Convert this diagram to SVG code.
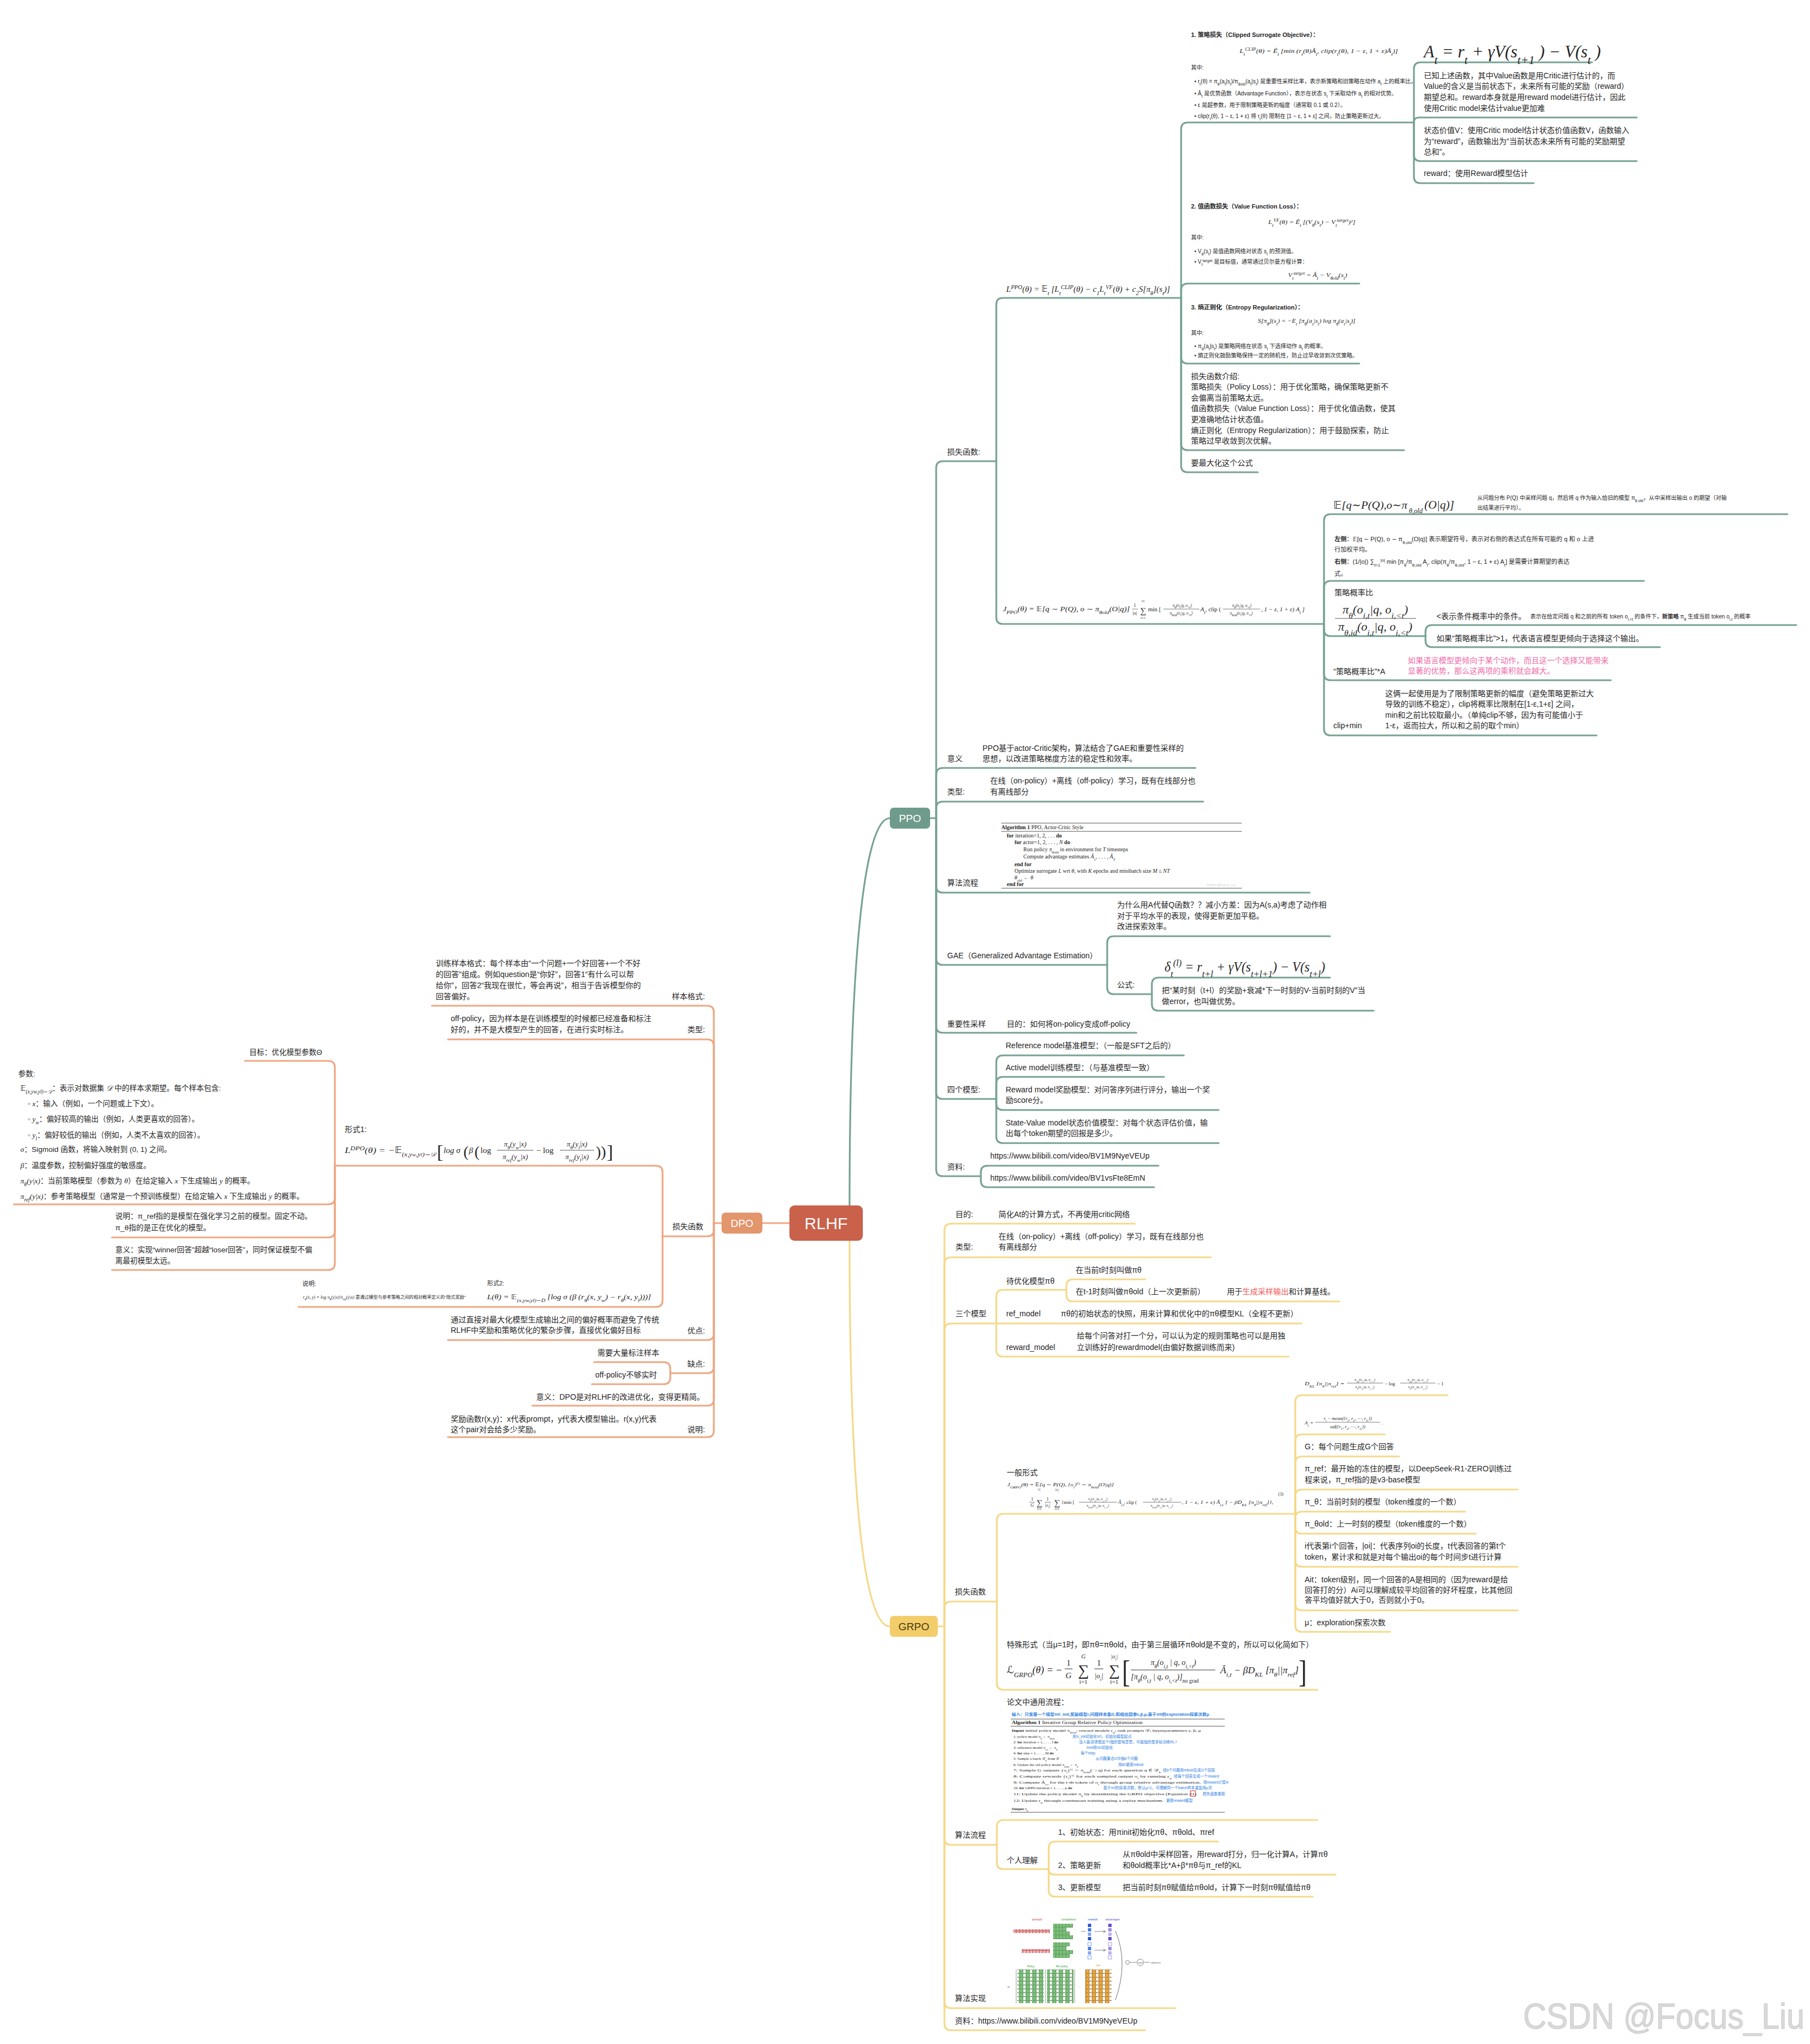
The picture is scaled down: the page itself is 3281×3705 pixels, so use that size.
<svg xmlns="http://www.w3.org/2000/svg" width="3281" height="3705" viewBox="0 0 3281 3705">
<style>
.t{font-family:"Liberation Sans","Noto Sans CJK SC",sans-serif;font-size:14px;fill:#262626}
.s6{font-size:6.8px}.s65{font-size:6.5px}.s75{font-size:7.5px}
.s7{font-size:7px}.s8{font-size:8px}.s10{font-size:10px}.s11{font-size:11px}.s13{font-size:13.5px}
.b{font-weight:bold}
.m{font-family:"Liberation Serif","DejaVu Serif","DejaVu Sans","Noto Sans CJK SC",serif;font-style:italic;fill:#262626}
.mr{font-family:"Liberation Serif","DejaVu Serif","DejaVu Sans","Noto Sans CJK SC",serif;fill:#262626}
.sb{font-size:70%;baseline-shift:sub}
.sp{font-size:70%;baseline-shift:super}
.ppo,.dpo,.grpo{fill:none;stroke-width:3.2;stroke-linecap:round;stroke-linejoin:round}
.ppo{stroke:#77a293}.dpo{stroke:#eea782}.grpo{stroke:#f5d98a}
.nd{font-family:"Liberation Sans",sans-serif;fill:#fff}
.rule{stroke:#555;stroke-width:1}
.fl{stroke:#444;stroke-width:0.7}
.blue{fill:#2b7de0}
.pink{fill:#f06aa8}
.red{fill:#f05a5a}
</style>
<defs>
<pattern id="pg" width="6" height="7" patternUnits="userSpaceOnUse"><rect x="0.5" y="0.5" width="5" height="6" fill="#7cc57a" stroke="#2f7a2f" stroke-width="0.6"/></pattern>
<pattern id="pw" width="12" height="7" patternUnits="userSpaceOnUse"><rect x="0.5" y="0.5" width="5" height="6" fill="#7cc57a" stroke="#2f7a2f" stroke-width="0.6"/><rect x="6.5" y="0.5" width="5" height="6" fill="#fff" stroke="#2f7a2f" stroke-width="0.6"/></pattern>
<pattern id="pp" width="6" height="7" patternUnits="userSpaceOnUse"><rect x="0.5" y="0.5" width="5" height="6" fill="#f6b8b8" stroke="#b03030" stroke-width="0.6"/></pattern>
<pattern id="po" width="12" height="7" patternUnits="userSpaceOnUse"><rect x="0.5" y="0.5" width="5" height="6" fill="#f2a933" stroke="#9a5b00" stroke-width="0.6"/><rect x="6.5" y="0.5" width="5" height="6" fill="#fff" stroke="#9a5b00" stroke-width="0.6"/></pattern>
</defs>
<rect width="3281" height="3705" fill="#fff"/>

<g id="connectors">
<path class="ppo" d="M1540 2186 C1540 1750 1565 1483 1613 1483"/>
<path class="grpo" d="M1540 2248 C1540 2700 1565 2948 1613 2948"/>
<path class="dpo" d="M1431 2217 H1382"/>
<path class="ppo" d="M1686 1483 H1697"/>
<path class="ppo" d="M1697 1483 V848 Q1697 836 1709 836 H1806"/>
<path class="ppo" d="M1697 1483 V1404 Q1697 1392 1709 1392 H2167"/>
<path class="ppo" d="M1697 1483 V1465 Q1697 1453 1709 1453 H2181"/>
<path class="ppo" d="M1697 1483 V1606 Q1697 1618 1709 1618 H2374"/>
<path class="ppo" d="M1697 1483 V1737 Q1697 1749 1709 1749 H2007"/>
<path class="ppo" d="M1697 1483 V1860 Q1697 1872 1709 1872 H2060"/>
<path class="ppo" d="M1697 1483 V1980 Q1697 1992 1709 1992 H1806"/>
<path class="ppo" d="M1697 1483 V2120 Q1697 2132 1709 2132 H1778"/>
<path class="ppo" d="M1806 836 V552 Q1806 540 1818 540 H2141"/>
<path class="ppo" d="M1806 836 V1119 Q1806 1131 1818 1131 H2400"/>
<path class="ppo" d="M2141 540 V234 Q2141 222 2153 222 H2563"/>
<path class="ppo" d="M2141 540 V526 Q2141 514 2153 514 H2464"/>
<path class="ppo" d="M2141 540 V647 Q2141 659 2153 659 H2464"/>
<path class="ppo" d="M2141 540 V804 Q2141 816 2153 816 H2545"/>
<path class="ppo" d="M2141 540 V844 Q2141 856 2153 856 H2280"/>
<path class="ppo" d="M2563 222 V125 Q2563 113 2575 113 H2886"/>
<path class="ppo" d="M2563 222 Q2563 213 2572 213 H2967"/>
<path class="ppo" d="M2563 222 V280 Q2563 292 2575 292 H2967"/>
<path class="ppo" d="M2563 222 V320 Q2563 332 2575 332 H2780"/>
<path class="ppo" d="M2400 1131 V944 Q2400 932 2412 932 H3240"/>
<path class="ppo" d="M2400 1131 V1065 Q2400 1053 2412 1053 H2980"/>
<path class="ppo" d="M2400 1131 V1141 Q2400 1153 2412 1153 H2584"/>
<path class="ppo" d="M2400 1131 V1221 Q2400 1233 2412 1233 H2920"/>
<path class="ppo" d="M2400 1131 V1321 Q2400 1333 2412 1333 H2894"/>
<path class="ppo" d="M2584 1153 V1145 Q2584 1133 2596 1133 H3256"/>
<path class="ppo" d="M2584 1153 V1161 Q2584 1173 2596 1173 H3009"/>
<path class="ppo" d="M2007 1749 V1709 Q2007 1697 2019 1697 H2411"/>
<path class="ppo" d="M2007 1749 V1790 Q2007 1802 2019 1802 H2088"/>
<path class="ppo" d="M2088 1802 V1784 Q2088 1772 2100 1772 H2411"/>
<path class="ppo" d="M2088 1802 V1820 Q2088 1832 2100 1832 H2490"/>
<path class="ppo" d="M1806 1992 V1925 Q1806 1913 1818 1913 H2146"/>
<path class="ppo" d="M1806 1992 V1964 Q1806 1952 1818 1952 H2110"/>
<path class="ppo" d="M1806 1992 V2000 Q1806 2012 1818 2012 H2209"/>
<path class="ppo" d="M1806 1992 V2060 Q1806 2072 1818 2072 H2209"/>
<path class="ppo" d="M1778 2132 V2125 Q1778 2113 1790 2113 H2100"/>
<path class="ppo" d="M1778 2132 V2140 Q1778 2152 1790 2152 H2092"/>
<path class="grpo" d="M1700 2948 H1712"/>
<path class="grpo" d="M1712 2948 V2230 Q1712 2218 1724 2218 H2057"/>
<path class="grpo" d="M1712 2948 V2291 Q1712 2279 1724 2279 H2195"/>
<path class="grpo" d="M1712 2948 V2411 Q1712 2399 1724 2399 H1806"/>
<path class="grpo" d="M1712 2948 V2915 Q1712 2903 1724 2903 H1807"/>
<path class="grpo" d="M1712 2948 V3332 Q1712 3344 1724 3344 H1807"/>
<path class="grpo" d="M1712 2948 V3628 Q1712 3640 1724 3640 H2131"/>
<path class="grpo" d="M1712 2948 V3668 Q1712 3680 1724 3680 H2076"/>
<path class="grpo" d="M1806 2399 V2350 Q1806 2338 1818 2338 H1933"/>
<path class="grpo" d="M1806 2399 H2359"/>
<path class="grpo" d="M1806 2399 V2447 Q1806 2459 1818 2459 H2336"/>
<path class="grpo" d="M1933 2338 V2331 Q1933 2319 1945 2319 H2076"/>
<path class="grpo" d="M1933 2338 V2347 Q1933 2359 1945 2359 H2428"/>
<path class="grpo" d="M1807 2903 V2756 Q1807 2744 1819 2744 H2348"/>
<path class="grpo" d="M1807 2903 V3051 Q1807 3063 1819 3063 H2388"/>
<path class="grpo" d="M2348 2744 V2541 Q2348 2529 2360 2529 H2624"/>
<path class="grpo" d="M2348 2744 V2612 Q2348 2600 2360 2600 H2510"/>
<path class="grpo" d="M2348 2744 V2652 Q2348 2640 2360 2640 H2536"/>
<path class="grpo" d="M2348 2744 V2712 Q2348 2700 2360 2700 H2751"/>
<path class="grpo" d="M2348 2752 Q2348 2740 2360 2740 H2656"/>
<path class="grpo" d="M2348 2744 V2768 Q2348 2780 2360 2780 H2675"/>
<path class="grpo" d="M2348 2744 V2828 Q2348 2840 2360 2840 H2751"/>
<path class="grpo" d="M2348 2744 V2907 Q2348 2919 2360 2919 H2751"/>
<path class="grpo" d="M2348 2744 V2946 Q2348 2958 2360 2958 H2520"/>
<path class="grpo" d="M1807 3344 V3311 Q1807 3299 1819 3299 H2388"/>
<path class="grpo" d="M1807 3344 V3376 Q1807 3388 1819 3388 H1901"/>
<path class="grpo" d="M1901 3388 V3350 Q1901 3338 1913 3338 H2208"/>
<path class="grpo" d="M1901 3388 Q1901 3398 1911 3398 H2421"/>
<path class="grpo" d="M1901 3388 V3426 Q1901 3438 1913 3438 H2380"/>
<path class="dpo" d="M1308 2217 H1294"/>
<path class="dpo" d="M1294 2217 V1835 Q1294 1823 1282 1823 H783"/>
<path class="dpo" d="M1294 2217 V1896 Q1294 1884 1282 1884 H812"/>
<path class="dpo" d="M1294 2217 V2229 Q1294 2241 1282 2241 H1201"/>
<path class="dpo" d="M1294 2217 V2417 Q1294 2429 1282 2429 H812"/>
<path class="dpo" d="M1294 2217 V2477 Q1294 2489 1282 2489 H1215"/>
<path class="dpo" d="M1294 2217 V2536 Q1294 2548 1282 2548 H965"/>
<path class="dpo" d="M1294 2217 V2593 Q1294 2605 1282 2605 H812"/>
<path class="dpo" d="M1201 2241 V2125 Q1201 2113 1189 2113 H607"/>
<path class="dpo" d="M1201 2241 V2357 Q1201 2369 1189 2369 H541"/>
<path class="dpo" d="M607 2113 V1935 Q607 1923 595 1923 H444"/>
<path class="dpo" d="M607 2113 V2171 Q607 2183 595 2183 H25"/>
<path class="dpo" d="M607 2113 V2231 Q607 2243 595 2243 H203"/>
<path class="dpo" d="M607 2113 V2290 Q607 2302 595 2302 H203"/>
<path class="dpo" d="M1215 2489 V2481 Q1215 2469 1203 2469 H1077"/>
<path class="dpo" d="M1215 2489 V2497 Q1215 2509 1203 2509 H1073"/>
</g>

<g id="node-rlhf"><rect x="1431" y="2185" width="133" height="64" rx="9" fill="#c9614b"/><text class="nd" x="1497.5" y="2228" font-size="30" text-anchor="middle">RLHF</text></g>
<g id="node-dpo"><rect x="1308" y="2198" width="74" height="38" rx="7" fill="#e3956c"/><text class="nd" x="1345" y="2224" font-size="19" text-anchor="middle">DPO</text></g>
<g id="node-ppo"><rect x="1613" y="1464" width="73" height="38" rx="7" fill="#6f9b8c"/><text class="nd" x="1649.5" y="1490" font-size="19" text-anchor="middle">PPO</text></g>
<g id="node-grpo"><rect x="1613" y="2929" width="87" height="38" rx="7" fill="#f2cd6a"/><text x="1656.5" y="2955" font-size="19" text-anchor="middle" font-family="Liberation Sans,sans-serif" fill="#4a3b10">GRPO</text></g>

<!-- ================= PPO ================= -->
<g id="ppo-loss"><text class="t" x="1717" y="824">损失函数:</text></g>
<g id="ppo-lppo"><text class="m" font-size="15" x="1824" y="529" textLength="297" lengthAdjust="spacingAndGlyphs">L<tspan class="sp">PPO</tspan>(θ) = 𝔼<tspan class="sb">t</tspan> [L<tspan class="sb">t</tspan><tspan class="sp">CLIP</tspan>(θ) − c<tspan class="sb">1</tspan>L<tspan class="sb">t</tspan><tspan class="sp">VF</tspan>(θ) + c<tspan class="sb">2</tspan>S[π<tspan class="sb">θ</tspan>](s<tspan class="sb">t</tspan>)]</text></g>

<g id="ppo-policy-loss">
<text class="t s11 b" x="2159" y="67">1. 策略损失（Clipped Surrogate Objective）：</text>
<text class="m" font-size="11" x="2247" y="96" textLength="287" lengthAdjust="spacingAndGlyphs">L<tspan class="sb">t</tspan><tspan class="sp">CLIP</tspan>(θ) = Ê<tspan class="sb">t</tspan> [min (r<tspan class="sb">t</tspan>(θ)Â<tspan class="sb">t</tspan>, clip(r<tspan class="sb">t</tspan>(θ), 1 − ε, 1 + ε)Â<tspan class="sb">t</tspan>)]</text>
<text class="t s10" x="2159" y="126">其中:</text>
<text class="t s10" x="2165" y="151">• r<tspan class="sb">t</tspan>(θ) = π<tspan class="sb">θ</tspan>(a<tspan class="sb">t</tspan>|s<tspan class="sb">t</tspan>)/π<tspan class="sb">θold</tspan>(a<tspan class="sb">t</tspan>|s<tspan class="sb">t</tspan>) 是重要性采样比率，表示新策略和旧策略在动作 a<tspan class="sb">t</tspan> 上的概率比。</text>
<text class="t s10" x="2165" y="173">• Â<tspan class="sb">t</tspan> 是优势函数（Advantage Function），表示在状态 s<tspan class="sb">t</tspan> 下采取动作 a<tspan class="sb">t</tspan> 的相对优势。</text>
<text class="t s10" x="2165" y="194">• ε 是超参数，用于限制策略更新的幅度（通常取 0.1 或 0.2）。</text>
<text class="t s10" x="2165" y="214">• clip(r<tspan class="sb">t</tspan>(θ), 1 − ε, 1 + ε) 将 r<tspan class="sb">t</tspan>(θ) 限制在 [1 − ε, 1 + ε] 之间，防止策略更新过大。</text>
</g>
<g id="ppo-at"><text class="m" font-size="31" x="2581" y="104">A<tspan class="sb">t</tspan> = r<tspan class="sb">t</tspan> + γV(s<tspan class="sb">t+1</tspan> ) − V(s<tspan class="sb">t</tspan> )</text></g>
<g id="ppo-known">
<text class="t" x="2581" y="142">已知上述函数，其中Value函数是用Critic进行估计的，而</text>
<text class="t" x="2581" y="161">Value的含义是当前状态下，未来所有可能的奖励（reward）</text>
<text class="t" x="2581" y="181">期望总和。reward本身就是用reward model进行估计，因此</text>
<text class="t" x="2581" y="201">使用Critic model来估计value更加难</text>
</g>
<g id="ppo-statev">
<text class="t" x="2581" y="241">状态价值V：使用Critic model估计状态价值函数V，函数输入</text>
<text class="t" x="2581" y="261">为“reward”，函数输出为“当前状态未来所有可能的奖励期望</text>
<text class="t" x="2581" y="280">总和”。</text>
</g>
<g id="ppo-reward"><text class="t" x="2581" y="319">reward：使用Reward模型估计</text></g>

<g id="ppo-value-loss">
<text class="t s11 b" x="2159" y="378">2. 值函数损失（Value Function Loss）：</text>
<text class="m" font-size="11" x="2299" y="406" textLength="158" lengthAdjust="spacingAndGlyphs">L<tspan class="sb">t</tspan><tspan class="sp">VF</tspan>(θ) = Ê<tspan class="sb">t</tspan> [(V<tspan class="sb">θ</tspan>(s<tspan class="sb">t</tspan>) − V<tspan class="sb">t</tspan><tspan class="sp">target</tspan>)²]</text>
<text class="t s10" x="2159" y="434">其中:</text>
<text class="t s10" x="2165" y="459">• V<tspan class="sb">θ</tspan>(s<tspan class="sb">t</tspan>) 是值函数网络对状态 s<tspan class="sb">t</tspan> 的预测值。</text>
<text class="t s10" x="2165" y="478">• V<tspan class="sb">t</tspan><tspan class="sp">target</tspan> 是目标值，通常通过贝尔曼方程计算：</text>
<text class="m" font-size="11" x="2335" y="502" textLength="107" lengthAdjust="spacingAndGlyphs">V<tspan class="sb">t</tspan><tspan class="sp">target</tspan> = Â<tspan class="sb">t</tspan> − V<tspan class="sb">θold</tspan>(s<tspan class="sb">t</tspan>)</text>
</g>
<g id="ppo-entropy">
<text class="t s11 b" x="2159" y="561">3. 熵正则化（Entropy Regularization）：</text>
<text class="m" font-size="10.5" x="2280" y="585" textLength="177" lengthAdjust="spacingAndGlyphs">S[π<tspan class="sb">θ</tspan>](s<tspan class="sb">t</tspan>) = −E<tspan class="sb">t</tspan> [π<tspan class="sb">θ</tspan>(a<tspan class="sb">t</tspan>|s<tspan class="sb">t</tspan>) log π<tspan class="sb">θ</tspan>(a<tspan class="sb">t</tspan>|s<tspan class="sb">t</tspan>)]</text>
<text class="t s10" x="2159" y="607">其中:</text>
<text class="t s10" x="2165" y="631">• π<tspan class="sb">θ</tspan>(a<tspan class="sb">t</tspan>|s<tspan class="sb">t</tspan>) 是策略网络在状态 s<tspan class="sb">t</tspan> 下选择动作 a<tspan class="sb">t</tspan> 的概率。</text>
<text class="t s10" x="2165" y="648">• 熵正则化鼓励策略保持一定的随机性，防止过早收敛到次优策略。</text>
</g>
<g id="ppo-intro">
<text class="t" x="2159" y="687">损失函数介绍:</text>
<text class="t" x="2159" y="706">策略损失（Policy Loss）：用于优化策略，确保策略更新不</text>
<text class="t" x="2159" y="726">会偏离当前策略太远。</text>
<text class="t" x="2159" y="745">值函数损失（Value Function Loss）：用于优化值函数，使其</text>
<text class="t" x="2159" y="765">更准确地估计状态值。</text>
<text class="t" x="2159" y="785">熵正则化（Entropy Regularization）：用于鼓励探索，防止</text>
<text class="t" x="2159" y="804">策略过早收敛到次优解。</text>
</g>
<g id="ppo-maximize"><text class="t" x="2159" y="844">要最大化这个公式</text></g>

<g id="ppo-jppo">
<text class="m" font-size="11.5" x="1818" y="1108" textLength="230" lengthAdjust="spacingAndGlyphs">J<tspan class="sb">PPO</tspan>(θ) = 𝔼[q ∼ P(Q), o ∼ π<tspan class="sb">θold</tspan>(O|q)]</text>
<text class="mr" font-size="9" x="2057" y="1100" text-anchor="middle">1</text>
<line class="fl" x1="2052" y1="1104" x2="2063" y2="1104"/>
<text class="mr" font-size="9" x="2057" y="1114" text-anchor="middle">|o|</text>
<text class="mr" font-size="6" x="2072" y="1091" text-anchor="middle">|o|</text>
<text class="mr" font-size="15" x="2072" y="1112" text-anchor="middle">∑</text>
<text class="m" font-size="6" x="2072" y="1122" text-anchor="middle">t=1</text>
<text class="mr" font-size="11" x="2081" y="1108">min [</text>
<text class="m" font-size="7.5" x="2143" y="1100" text-anchor="middle">π<tspan class="sb">θ</tspan>(o<tspan class="sb">t</tspan>|q, o<tspan class="sb">&lt;t</tspan>)</text>
<line class="fl" x1="2109" y1="1104" x2="2174" y2="1104"/>
<text class="m" font-size="7.5" x="2141" y="1114" text-anchor="middle">π<tspan class="sb">θold</tspan>(o<tspan class="sb">t</tspan>|q, o<tspan class="sb">&lt;t</tspan>)</text>
<text class="m" font-size="11" x="2176" y="1108">A<tspan class="sb">t</tspan>, <tspan font-style="normal">clip (</tspan></text>
<text class="m" font-size="7.5" x="2251" y="1100" text-anchor="middle">π<tspan class="sb">θ</tspan>(o<tspan class="sb">t</tspan>|q, o<tspan class="sb">&lt;t</tspan>)</text>
<line class="fl" x1="2217" y1="1104" x2="2284" y2="1104"/>
<text class="m" font-size="7.5" x="2250" y="1114" text-anchor="middle">π<tspan class="sb">θold</tspan>(o<tspan class="sb">t</tspan>|q, o<tspan class="sb">&lt;t</tspan>)</text>
<text class="m" font-size="11" x="2286" y="1108">, 1 − ε, 1 + ε) A<tspan class="sb">t</tspan> ]</text>
</g>

<g id="ppo-expect">
<text class="m" font-size="19.5" x="2417" y="922" textLength="134" lengthAdjust="spacingAndGlyphs">𝔼[q∼P(Q),o∼π</text>
<text class="m" font-size="12" x="2554" y="930" textLength="25" lengthAdjust="spacingAndGlyphs">θ,old</text>
<text class="m" font-size="20" x="2582" y="922" textLength="54" lengthAdjust="spacingAndGlyphs">(O|q)]</text>
<text class="t s10" x="2678" y="906">从问题分布 P(Q) 中采样问题 q，然后将 q 作为输入给旧的模型 π<tspan class="sb">θ,old</tspan>，从中采样出输出 o 的期望（对输</text>
<text class="t s10" x="2678" y="924">出结果进行平均）。</text>
</g>
<g id="ppo-leftright">
<text class="t s11" x="2419" y="981"><tspan class="b">左侧</tspan>：𝔼[q ∼ P(Q), o ∼ π<tspan class="sb">θ,old</tspan>(O|q)] 表示期望符号，表示对右侧的表达式在所有可能的 q 和 o 上进</text>
<text class="t s11" x="2419" y="1000">行加权平均。</text>
<text class="t s11" x="2419" y="1022"><tspan class="b">右侧</tspan>：(1/|o|) ∑<tspan class="sb">t=1</tspan><tspan class="sp">|o|</tspan> min [π<tspan class="sb">θ</tspan>/π<tspan class="sb">θ,old</tspan> A<tspan class="sb">t</tspan>, clip(π<tspan class="sb">θ</tspan>/π<tspan class="sb">θ,old</tspan>, 1 − ε, 1 + ε) A<tspan class="sb">t</tspan>] 是需要计算期望的表达</text>
<text class="t s11" x="2419" y="1044">式。</text>
</g>
<g id="ppo-ratio">
<text class="t" x="2419" y="1079">策略概率比</text>
<text class="m" font-size="22" x="2493" y="1112" text-anchor="middle">π<tspan class="sb">θ</tspan>(o<tspan class="sb">i,t</tspan>|q, o<tspan class="sb">i,&lt;t</tspan>)</text>
<line x1="2420" y1="1121" x2="2567" y2="1121" stroke="#555" stroke-width="1"/>
<text class="m" font-size="22" x="2493" y="1143" text-anchor="middle">π<tspan class="sb">θ,id</tspan>(o<tspan class="sb">i,t</tspan>|q, o<tspan class="sb">i,&lt;t</tspan>)</text>
</g>
<g id="ppo-ratio-cond">
<text class="t" x="2604" y="1122">&lt;表示条件概率中的条件。</text>
<text class="t s10" x="2774" y="1121">表示在给定问题 q 和之前的所有 token o<tspan class="sb">i,&lt;t</tspan> 的条件下，<tspan class="b">新策略</tspan> π<tspan class="sb">θ</tspan> 生成当前 token o<tspan class="sb">i,t</tspan> 的概率</text>
</g>
<g id="ppo-ratio-gt1"><text class="t" x="2604" y="1162">如果“策略概率比”&gt;1，代表语言模型更倾向于选择这个输出。</text></g>
<g id="ppo-ratio-a">
<text class="t" x="2417" y="1222">“策略概率比”*A</text>
<text class="t pink" x="2552" y="1202">如果语言模型更倾向于某个动作，而且这一个选择又能带来</text>
<text class="t pink" x="2552" y="1221">显著的优势，那么这两项的乘积就会越大。</text>
</g>
<g id="ppo-clipmin">
<text class="t" x="2417" y="1320">clip+min</text>
<text class="t" x="2511" y="1262">这俩一起使用是为了限制策略更新的幅度（避免策略更新过大</text>
<text class="t" x="2511" y="1281">导致的训练不稳定），clip将概率比限制在[1-ε,1+ε] 之间，</text>
<text class="t" x="2511" y="1301">min和之前比较取最小。（单纯clip不够，因为有可能值小于</text>
<text class="t" x="2511" y="1320">1-ε，返而拉大，所以和之前的取个min）</text>
</g>

<g id="ppo-meaning">
<text class="t" x="1717" y="1380">意义</text>
<text class="t" x="1781" y="1361">PPO基于actor-Critic架构，算法结合了GAE和重要性采样的</text>
<text class="t" x="1781" y="1380">思想，以改进策略梯度方法的稳定性和效率。</text>
</g>
<g id="ppo-type">
<text class="t" x="1717" y="1440">类型:</text>
<text class="t" x="1795" y="1420">在线（on-policy）+离线（off-policy）学习，既有在线部分也</text>
<text class="t" x="1795" y="1440">有离线部分</text>
</g>
<g id="ppo-algo">
<text class="t" x="1717" y="1605">算法流程</text>
<line class="rule" x1="1815" y1="1492" x2="2251" y2="1492" stroke-width="1.6"/>
<text class="mr" font-size="10" x="1815" y="1503"><tspan font-weight="bold">Algorithm 1</tspan> PPO, Actor-Critic Style</text>
<line class="rule" x1="1815" y1="1507" x2="2251" y2="1507" stroke-width="0.8"/>
<text class="mr" font-size="10" x="1825" y="1518"><tspan font-weight="bold">for</tspan> iteration=1, 2, . . . <tspan font-weight="bold">do</tspan></text>
<text class="mr" font-size="10" x="1839" y="1530"><tspan font-weight="bold">for</tspan> actor=1, 2, . . . , <tspan font-style="italic">N</tspan> <tspan font-weight="bold">do</tspan></text>
<text class="mr" font-size="10" x="1855" y="1543">Run policy <tspan font-style="italic">π</tspan><tspan class="sb">θold</tspan> in environment for <tspan font-style="italic">T</tspan> timesteps</text>
<text class="mr" font-size="10" x="1855" y="1556">Compute advantage estimates <tspan font-style="italic">Â</tspan><tspan class="sb">1</tspan>, . . . , <tspan font-style="italic">Â</tspan><tspan class="sb">T</tspan></text>
<text class="mr" font-size="10" x="1839" y="1570" font-weight="bold">end for</text>
<text class="mr" font-size="10" x="1839" y="1582">Optimize surrogate <tspan font-style="italic">L</tspan> wrt <tspan font-style="italic">θ</tspan>, with <tspan font-style="italic">K</tspan> epochs and minibatch size <tspan font-style="italic">M</tspan> ≤ <tspan font-style="italic">NT</tspan></text>
<text class="mr" font-size="10" x="1839" y="1594"><tspan font-style="italic">θ</tspan><tspan class="sb">old</tspan> ← <tspan font-style="italic">θ</tspan></text>
<text class="mr" font-size="10" x="1825" y="1606" font-weight="bold">end for</text>
<text x="2187" y="1606" font-size="6" font-family="Liberation Sans,sans-serif" fill="#cfcfcf">CSDN @Focus_Liu</text>
<line class="rule" x1="1815" y1="1610" x2="2251" y2="1610" stroke-width="1.6"/>
</g>
<g id="ppo-gae"><text class="t" x="1717" y="1737">GAE（Generalized Advantage Estimation）</text></g>
<g id="ppo-gae-why">
<text class="t" x="2025" y="1645">为什么用A代替Q函数？？减小方差：因为A(s,a)考虑了动作相</text>
<text class="t" x="2025" y="1665">对于平均水平的表现，使得更新更加平稳。</text>
<text class="t" x="2025" y="1684">改进探索效率。</text>
</g>
<g id="ppo-gae-formula"><text class="t" x="2025" y="1790">公式:</text></g>
<g id="ppo-delta"><text class="m" font-size="25" x="2111" y="1761" textLength="291" lengthAdjust="spacingAndGlyphs">δ<tspan class="sb">t</tspan><tspan class="sp">(l)</tspan> = r<tspan class="sb">t+l</tspan> + γV(s<tspan class="sb">t+l+1</tspan>) − V(s<tspan class="sb">t+l</tspan>)</text></g>
<g id="ppo-delta-desc">
<text class="t" x="2106" y="1800">把“某时刻（t+l）的奖励+衰减*下一时刻的V-当前时刻的V”当</text>
<text class="t" x="2106" y="1820">做error，也叫做优势。</text>
</g>
<g id="ppo-is">
<text class="t" x="1717" y="1861">重要性采样</text>
<text class="t" x="1825" y="1861">目的：如何将on-policy变成off-policy</text>
</g>
<g id="ppo-four"><text class="t" x="1717" y="1980">四个模型:</text></g>
<g id="ppo-ref"><text class="t" x="1823" y="1900">Reference model基准模型：（一般是SFT之后的）</text></g>
<g id="ppo-active"><text class="t" x="1823" y="1940">Active model训练模型：（与基准模型一致）</text></g>
<g id="ppo-rm">
<text class="t" x="1823" y="1980">Reward model奖励模型：对问答序列进行评分，输出一个奖</text>
<text class="t" x="1823" y="1999">励score分。</text>
</g>
<g id="ppo-sv">
<text class="t" x="1823" y="2040">State-Value model状态价值模型：对每个状态评估价值，输</text>
<text class="t" x="1823" y="2059">出每个token期望的回报是多少。</text>
</g>
<g id="ppo-res"><text class="t" x="1717" y="2120">资料:</text></g>
<g id="ppo-link1"><text class="t" x="1795" y="2100">https://www.bilibili.com/video/BV1M9NyeVEUp</text></g>
<g id="ppo-link2"><text class="t" x="1795" y="2140">https://www.bilibili.com/video/BV1vsFte8EmN</text></g>

<!-- ================= GRPO ================= -->
<g id="grpo-goal">
<text class="t" x="1732" y="2206">目的:</text>
<text class="t" x="1810" y="2206">简化At的计算方式，不再使用critic网络</text>
</g>
<g id="grpo-type">
<text class="t" x="1732" y="2265">类型:</text>
<text class="t" x="1810" y="2246">在线（on-policy）+离线（off-policy）学习，既有在线部分也</text>
<text class="t" x="1810" y="2265">有离线部分</text>
</g>
<g id="grpo-three"><text class="t" x="1732" y="2386">三个模型</text></g>
<g id="grpo-pitheta"><text class="t" x="1824" y="2327">待优化模型πθ</text></g>
<g id="grpo-t"><text class="t" x="1950" y="2307">在当前t时刻叫做πθ</text></g>
<g id="grpo-t1">
<text class="t" x="1950" y="2346">在t-1时刻叫做πθold（上一次更新前）</text>
<text class="t" x="2224" y="2346">用于<tspan class="red">生成采样输出</tspan>和计算基线。</text>
</g>
<g id="grpo-refmodel">
<text class="t" x="1824" y="2386">ref_model</text>
<text class="t" x="1923" y="2386">πθ的初始状态的快照，用来计算和优化中的πθ模型KL（全程不更新）</text>
</g>
<g id="grpo-rewardmodel">
<text class="t" x="1824" y="2447">reward_model</text>
<text class="t" x="1952" y="2426">给每个问答对打一个分，可以认为定的规则策略也可以是用独</text>
<text class="t" x="1952" y="2447">立训练好的rewardmodel(由偏好数据训练而来)</text>
</g>
<g id="grpo-loss"><text class="t" x="1731" y="2890">损失函数</text></g>
<g id="grpo-general">
<text class="t" x="1825" y="2674">一般形式</text>
<text class="m" font-size="9" x="1826" y="2694" textLength="193" lengthAdjust="spacingAndGlyphs">J<tspan class="sb">GRPO</tspan>(θ) = 𝔼[q ∼ P(Q), {o<tspan class="sb">i</tspan>}<tspan class="sp">G</tspan> ∼ π<tspan class="sb">θold</tspan>(O|q)]</text>
<text class="mr" font-size="8" x="1871" y="2720" text-anchor="middle">1</text>
<line class="fl" x1="1866" y1="2723" x2="1876" y2="2723"/>
<text class="m" font-size="8" x="1871" y="2731" text-anchor="middle">G</text>
<text class="m" font-size="6" x="1884" y="2702" text-anchor="middle">G</text>
<text class="mr" font-size="15" x="1884" y="2729" text-anchor="middle">∑</text>
<text class="mr" font-size="6" x="1884" y="2737" text-anchor="middle">i=1</text>
<text class="mr" font-size="8" x="1899" y="2720" text-anchor="middle">1</text>
<line class="fl" x1="1894" y1="2723" x2="1905" y2="2723"/>
<text class="m" font-size="8" x="1899" y="2731" text-anchor="middle">|o<tspan class="sb">i</tspan>|</text>
<text class="m" font-size="6" x="1916" y="2702" text-anchor="middle">|o<tspan class="sb">i</tspan>|</text>
<text class="mr" font-size="15" x="1916" y="2729" text-anchor="middle">∑</text>
<text class="mr" font-size="6" x="1916" y="2737" text-anchor="middle">t=1</text>
<text class="mr" font-size="9" x="1924" y="2726">{min [</text>
<text class="m" font-size="6.5" x="1990" y="2719" text-anchor="middle">π<tspan class="sb">θ</tspan>(o<tspan class="sb">i,t</tspan>|q, o<tspan class="sb">i,&lt;t</tspan>)</text>
<line class="fl" x1="1956" y1="2723" x2="2025" y2="2723"/>
<text class="m" font-size="6.5" x="1990" y="2731" text-anchor="middle">π<tspan class="sb">θold</tspan>(o<tspan class="sb">i,t</tspan>|q, o<tspan class="sb">i,&lt;t</tspan>)</text>
<text class="m" font-size="9" x="2027" y="2726">Â<tspan class="sb">i,t</tspan>, <tspan font-style="normal">clip (</tspan></text>
<text class="m" font-size="6.5" x="2106" y="2719" text-anchor="middle">π<tspan class="sb">θ</tspan>(o<tspan class="sb">i,t</tspan>|q, o<tspan class="sb">i,&lt;t</tspan>)</text>
<line class="fl" x1="2072" y1="2723" x2="2141" y2="2723"/>
<text class="m" font-size="6.5" x="2106" y="2731" text-anchor="middle">π<tspan class="sb">θold</tspan>(o<tspan class="sb">i,t</tspan>|q, o<tspan class="sb">i,&lt;t</tspan>)</text>
<text class="m" font-size="9" x="2142" y="2726" textLength="166" lengthAdjust="spacingAndGlyphs">, 1 − ε, 1 + ε) Â<tspan class="sb">i,t</tspan> ] − βD<tspan class="sb">KL</tspan> [π<tspan class="sb">θ</tspan>||π<tspan class="sb">ref</tspan>]},</text>
<text class="mr" font-size="8" x="2317" y="2711">(3)</text>
</g>
<g id="grpo-dkl">
<text class="m" font-size="9" x="2365" y="2511" textLength="72" lengthAdjust="spacingAndGlyphs">D<tspan class="sb">KL</tspan> [π<tspan class="sb">θ</tspan>||π<tspan class="sb">ref</tspan>] =</text>
<text class="m" font-size="6.5" x="2474" y="2503" text-anchor="middle">π<tspan class="sb">ref</tspan>(o<tspan class="sb">i,t</tspan>|q, o<tspan class="sb">i,&lt;t</tspan>)</text>
<line class="fl" x1="2442" y1="2507" x2="2507" y2="2507"/>
<text class="m" font-size="6.5" x="2474" y="2516" text-anchor="middle">π<tspan class="sb">θ</tspan>(o<tspan class="sb">i,t</tspan>|q, o<tspan class="sb">i,&lt;t</tspan>)</text>
<text class="mr" font-size="9" x="2510" y="2511">− log</text>
<text class="m" font-size="6.5" x="2570" y="2503" text-anchor="middle">π<tspan class="sb">ref</tspan>(o<tspan class="sb">i,t</tspan>|q, o<tspan class="sb">i,&lt;t</tspan>)</text>
<line class="fl" x1="2538" y1="2507" x2="2602" y2="2507"/>
<text class="m" font-size="6.5" x="2570" y="2516" text-anchor="middle">π<tspan class="sb">θ</tspan>(o<tspan class="sb">i,t</tspan>|q, o<tspan class="sb">i,&lt;t</tspan>)</text>
<text class="mr" font-size="9" x="2605" y="2511">− 1</text>
</g>
<g id="grpo-ai">
<text class="m" font-size="9" x="2365" y="2582">A<tspan class="sb">i</tspan> =</text>
<text class="m" font-size="8.5" x="2443" y="2574" text-anchor="middle">r<tspan class="sb">i</tspan> − mean({r<tspan class="sb">1</tspan>, r<tspan class="sb">2</tspan>, ⋯, r<tspan class="sb">G</tspan>})</text>
<line class="fl" x1="2384" y1="2578" x2="2502" y2="2578"/>
<text class="m" font-size="8.5" x="2443" y="2589" text-anchor="middle">std({r<tspan class="sb">1</tspan>, r<tspan class="sb">2</tspan>, ⋯, r<tspan class="sb">G</tspan>})</text>
<text class="mr" font-size="9" x="2504" y="2582">.</text>
</g>
<g id="grpo-g"><text class="t" x="2365" y="2627">G：每个问题生成G个回答</text></g>
<g id="grpo-piref">
<text class="t" x="2365" y="2667">π_ref：最开始的冻住的模型，以DeepSeek-R1-ZERO训练过</text>
<text class="t" x="2365" y="2687">程来说，π_ref指的是v3-base模型</text>
</g>
<g id="grpo-pit"><text class="t" x="2365" y="2727">π_θ：当前时刻的模型（token维度的一个数）</text></g>
<g id="grpo-piold"><text class="t" x="2365" y="2767">π_θold：上一时刻的模型（token维度的一个数）</text></g>
<g id="grpo-i">
<text class="t" x="2365" y="2807">i代表第i个回答，|oi|：代表序列oi的长度，t代表回答的第t个</text>
<text class="t" x="2365" y="2827">token，累计求和就是对每个输出oi的每个时间步t进行计算</text>
</g>
<g id="grpo-ait">
<text class="t" x="2365" y="2868">Ait：token级别，同一个回答的A是相同的（因为reward是给</text>
<text class="t" x="2365" y="2887">回答打的分）Ai可以理解成较平均回答的好坏程度，比其他回</text>
<text class="t" x="2365" y="2905">答平均值好就大于0，否则就小于0。</text>
</g>
<g id="grpo-mu"><text class="t" x="2365" y="2946">μ：exploration探索次数</text></g>
<g id="grpo-special">
<text class="t" x="1825" y="2986">特殊形式（当μ=1时，即πθ=πθold，由于第三层循环πθold是不变的，所以可以化简如下）</text>
<text class="m" font-size="18" x="1825" y="3033">ℒ<tspan class="sb">GRPO</tspan>(θ) = −</text>
<text class="mr" font-size="15" x="1937" y="3019" text-anchor="middle">1</text>
<line x1="1930" y1="3025" x2="1944" y2="3025" stroke="#333" stroke-width="1"/>
<text class="m" font-size="15" x="1937" y="3042" text-anchor="middle">G</text>
<text class="m" font-size="11" x="1964" y="3006" text-anchor="middle">G</text>
<text class="mr" font-size="28" x="1964" y="3037" text-anchor="middle">∑</text>
<text class="mr" font-size="11" x="1964" y="3052" text-anchor="middle">i=1</text>
<text class="mr" font-size="15" x="1992" y="3019" text-anchor="middle">1</text>
<line x1="1984" y1="3025" x2="2000" y2="3025" stroke="#333" stroke-width="1"/>
<text class="m" font-size="13" x="1992" y="3042" text-anchor="middle">|o<tspan class="sb">i</tspan>|</text>
<text class="m" font-size="10" x="2020" y="3006" text-anchor="middle">|o<tspan class="sb">i</tspan>|</text>
<text class="mr" font-size="28" x="2020" y="3037" text-anchor="middle">∑</text>
<text class="mr" font-size="11" x="2020" y="3052" text-anchor="middle">t=1</text>
<text class="mr" font-size="44" x="2034" y="3044" transform="translate(2034 3027) scale(1 1.3) translate(-2034 -3027)">[</text>
<text class="m" font-size="14" x="2127" y="3018" text-anchor="middle">π<tspan class="sb">θ</tspan>(o<tspan class="sb">i,t</tspan> | q, o<tspan class="sb">i,&lt;t</tspan>)</text>
<line x1="2050" y1="3027" x2="2203" y2="3027" stroke="#333" stroke-width="1"/>
<text class="m" font-size="14" x="2050" y="3044">[π<tspan class="sb">θ</tspan>(o<tspan class="sb">i,t</tspan> | q, o<tspan class="sb">i,&lt;t</tspan>)]<tspan class="sb" font-style="normal">no grad</tspan></text>
<text class="m" font-size="16" x="2212" y="3033" textLength="142" lengthAdjust="spacingAndGlyphs">Â<tspan class="sb">i,t</tspan> − βD<tspan class="sb">KL</tspan> [π<tspan class="sb">θ</tspan>||π<tspan class="sb">ref</tspan>]</text>
<text class="mr" font-size="44" x="2354" y="3044" transform="translate(2354 3027) scale(1 1.3) translate(-2354 -3027)">]</text>
</g>
<g id="grpo-algo"><text class="t" x="1731" y="3331">算法流程</text></g>
<g id="grpo-paper">
<text class="t" x="1825" y="3090">论文中通用流程：</text>
<text class="t blue b s65" x="1834" y="3110" textLength="358" lengthAdjust="spacingAndGlyphs">输入：只需要一个模型π0_init,奖励模型r,问题样本集D,和相应超参ε,β,μ,基于π0的exploration探索次数μ</text>
<line class="rule" x1="1832" y1="3116" x2="2220" y2="3116" stroke-width="1.2"/>
<text class="mr" font-size="8" x="1834" y="3125" textLength="237" lengthAdjust="spacingAndGlyphs"><tspan font-weight="bold">Algorithm 1</tspan> Iterative Group Relative Policy Optimization</text>
<line class="rule" x1="1832" y1="3129" x2="2220" y2="3129" stroke-width="0.7"/>
<text class="mr" font-size="7" x="1834" y="3139" textLength="343" lengthAdjust="spacingAndGlyphs"><tspan font-weight="bold">Input</tspan> initial policy model π<tspan class="sb">θinit</tspan>; reward models r<tspan class="sb">φ</tspan>; task prompts 𝒟; hyperparameters ε, β, μ</text>
<text class="mr" font-size="7" x="1837" y="3150">1: policy model π<tspan class="sb">θ</tspan> ← π<tspan class="sb">θinit</tspan></text>
<text class="t blue s6" x="1944" y="3150">用π_init初始化π0，初始化模型起点</text>
<text class="mr" font-size="7" x="1837" y="3160">2: <tspan font-weight="bold">for</tspan> iteration = 1, . . . , I <tspan font-weight="bold">do</tspan></text>
<text class="t blue s6" x="1956" y="3160">没人能讲清楚这个I指的是啥意思，可能指的是多轮训练RL?</text>
<text class="mr" font-size="7" x="1837" y="3170">3:    reference model π<tspan class="sb">ref</tspan> ← π<tspan class="sb">θ</tspan></text>
<text class="t blue s6" x="1969" y="3170">πref用π0初始化</text>
<text class="mr" font-size="7" x="1837" y="3180">4:    <tspan font-weight="bold">for</tspan> step = 1, . . . , M <tspan font-weight="bold">do</tspan></text>
<text class="t blue s6" x="1959" y="3180">每个step</text>
<text class="mr" font-size="7" x="1837" y="3190">5:        Sample a batch 𝒟<tspan class="sb">b</tspan> from 𝒟</text>
<text class="t blue s6" x="1986" y="3190">从问题集合D中抽b个问题</text>
<text class="mr" font-size="7" x="1837" y="3201">6:        Update the old policy model π<tspan class="sb">θold</tspan> ← π<tspan class="sb">θ</tspan></text>
<text class="t blue s6" x="2027" y="3201">用θ0更新πθold</text>
<text class="mr" font-size="7" x="1837" y="3211" textLength="267" lengthAdjust="spacingAndGlyphs">7:        Sample G outputs {o<tspan class="sb">i</tspan>}<tspan class="sp">G</tspan> ∼ π<tspan class="sb">θold</tspan>(· | q) for each question q ∈ 𝒟<tspan class="sb">b</tspan></text>
<text class="t blue s6" x="2108" y="3211">给b个问题用πθold生成G个回答</text>
<text class="mr" font-size="7" x="1837" y="3222" textLength="287" lengthAdjust="spacingAndGlyphs">8:        Compute rewards {r<tspan class="sb">i</tspan>}<tspan class="sp">G</tspan> for each sampled output o<tspan class="sb">i</tspan> by running r<tspan class="sb">φ</tspan></text>
<text class="t blue s6" x="2128" y="3222">给每个回答生成一个reward</text>
<text class="mr" font-size="7" x="1837" y="3233" textLength="340" lengthAdjust="spacingAndGlyphs">9:        Compute Â<tspan class="sb">i,t</tspan> for the t-th token of o<tspan class="sb">i</tspan> through group relative advantage estimation.</text>
<text class="t blue s6" x="2181" y="3233">用reward计算A</text>
<text class="mr" font-size="7" x="1837" y="3243">10:       <tspan font-weight="bold">for</tspan> GRPO iteration = 1, . . . , μ <tspan font-weight="bold">do</tspan></text>
<text class="t blue s6" x="2000" y="3243">基于π0的探索次数，默认μ=1，可理解同一个batch样本重复用μ次</text>
<text class="mr" font-size="7" x="1837" y="3254" textLength="332" lengthAdjust="spacingAndGlyphs">11:           Update the policy model π<tspan class="sb">θ</tspan> by maximizing the GRPO objective (Equation 21)</text>
<rect x="2158" y="3246" width="9" height="10" fill="none" stroke="#e02020" stroke-width="1"/>
<text class="t blue s6" x="2180" y="3254">损失函数更新</text>
<text class="mr" font-size="7" x="1837" y="3266" textLength="272" lengthAdjust="spacingAndGlyphs">12:    Update r<tspan class="sb">φ</tspan> through continuous training using a replay mechanism.</text>
<text class="t blue s6" x="2114" y="3266">更新reward模型</text>
<text class="mr" font-size="7" x="1834" y="3281"><tspan font-weight="bold">Output</tspan> π<tspan class="sb">θ</tspan></text>
<line class="rule" x1="1832" y1="3285" x2="2220" y2="3285" stroke-width="1.2"/>
</g>
<g id="grpo-personal"><text class="t" x="1825" y="3377">个人理解</text></g>
<g id="grpo-step1"><text class="t" x="1918" y="3326">1、初始状态：用πinit初始化πθ、πθold、πref</text></g>
<g id="grpo-step2">
<text class="t" x="1918" y="3386">2、策略更新</text>
<text class="t" x="2035" y="3366">从πθold中采样回答，用reward打分，归一化计算A，计算πθ</text>
<text class="t" x="2035" y="3386">和θold概率比*A+β*πθ与π_ref的KL</text>
</g>
<g id="grpo-step3">
<text class="t" x="1918" y="3426">3、更新模型</text>
<text class="t" x="2035" y="3426">把当前时刻πθ赋值给πθold，计算下一时刻πθ赋值给πθ</text>
</g>
<g id="grpo-impl">
<text class="t" x="1731" y="3627">算法实现</text>
<text x="1871" y="3481" font-size="5" font-family="Liberation Sans,sans-serif" fill="#d03030">prompts</text>
<text x="1924" y="3481" font-size="5" font-family="Liberation Sans,sans-serif" fill="#3a9a3a">completions</text>
<text x="1972" y="3481" font-size="5" font-family="Liberation Sans,sans-serif" fill="#2a5bd0">rewards</text>
<text x="2004" y="3481" font-size="5" font-family="Liberation Sans,sans-serif" fill="#6a4fc8">advantages</text>
<rect x="1837" y="3497" width="66" height="7" fill="url(#pp)"/>
<rect x="1909" y="3487" width="36" height="7" fill="url(#pg)"/>
<rect x="1909" y="3494" width="24" height="7" fill="url(#pg)"/>
<rect x="1909" y="3501" width="30" height="7" fill="url(#pg)"/>
<rect x="1909" y="3508" width="36" height="7" fill="url(#pg)"/>
<rect x="1972" y="3487" width="6" height="6" fill="#2a5bd0"/><rect x="1972" y="3495" width="6" height="6" fill="#4a7be0"/><rect x="1972" y="3503" width="6" height="6" fill="#8aaaf0"/><rect x="1972" y="3511" width="6" height="6" fill="#2a5bd0"/>
<rect x="2009" y="3487" width="6" height="6" fill="#6a4fc8"/><rect x="2009" y="3495" width="6" height="6" fill="#a08ae0"/><rect x="2009" y="3503" width="6" height="6" fill="#c0b0f0"/><rect x="2009" y="3511" width="6" height="6" fill="#6a4fc8"/>
<path d="M1984 3501 H2004 M2000 3499 L2004 3501 L2000 3503" stroke="#333" stroke-width="0.6" fill="none"/>
<path d="M1960 3501 H1968" stroke="#333" stroke-width="0.6"/>
<rect x="1852" y="3533" width="51" height="7" fill="url(#pp)"/>
<rect x="1909" y="3521" width="30" height="7" fill="url(#pg)"/>
<rect x="1909" y="3528" width="24" height="7" fill="url(#pg)"/>
<rect x="1909" y="3535" width="36" height="7" fill="url(#pg)"/>
<rect x="1909" y="3542" width="30" height="7" fill="url(#pg)"/>
<rect x="1972" y="3521" width="6" height="6" fill="#fff" stroke="#2a5bd0" stroke-width="0.6"/><rect x="1972" y="3529" width="6" height="6" fill="#4a7be0"/><rect x="1972" y="3537" width="6" height="6" fill="#8aaaf0"/><rect x="1972" y="3545" width="6" height="6" fill="#fff" stroke="#2a5bd0" stroke-width="0.6"/>
<rect x="2009" y="3521" width="6" height="6" fill="#fff" stroke="#6a4fc8" stroke-width="0.6"/><rect x="2009" y="3529" width="6" height="6" fill="#a08ae0"/><rect x="2009" y="3537" width="6" height="6" fill="#c0b0f0"/><rect x="2009" y="3545" width="6" height="6" fill="#fff" stroke="#6a4fc8" stroke-width="0.6"/>
<path d="M1984 3535 H2004 M2000 3533 L2004 3535 L2000 3537" stroke="#333" stroke-width="0.6" fill="none"/>
<text x="1862" y="3566" font-size="5" font-family="Liberation Sans,sans-serif" fill="#3a9a3a">Policy</text>
<text x="1914" y="3566" font-size="5" font-family="Liberation Sans,sans-serif" fill="#3a9a3a">Ref policy</text>
<text x="1987" y="3564" font-size="5" font-family="Liberation Serif,serif" fill="#d08a10">D<tspan font-size="3.5">KL</tspan></text>
<rect x="1844" y="3570" width="48" height="61" fill="url(#pw)"/>
<rect x="1898" y="3570" width="48" height="61" fill="url(#pw)"/>
<rect x="1967" y="3570" width="48" height="61" fill="url(#po)"/>
<path d="M1842 3570 V3631 M1895 3570 V3631 M1948 3570 V3631" stroke="#333" stroke-width="0.5"/>
<text x="1826" y="3603" font-size="5" font-family="Liberation Serif,serif" font-style="italic" fill="#333">π<tspan font-size="3.5">θ</tspan></text>
<text x="1955" y="3603" font-size="5" font-family="Liberation Serif,serif" fill="#333">=</text>
<path d="M2022 3500 Q2046 3557 2022 3625" stroke="#333" stroke-width="0.7" fill="none"/>
<circle cx="2044" cy="3557" r="3.5" fill="#fff" stroke="#333" stroke-width="0.6"/>
<path d="M2048 3557 H2060" stroke="#333" stroke-width="0.6"/>
<circle cx="2067" cy="3557" r="6" fill="#fff" stroke="#333" stroke-width="0.6"/>
<text x="2063" y="3559" font-size="3.5" font-family="Liberation Sans,sans-serif" fill="#333">mean</text>
<path d="M2074 3557 H2084" stroke="#333" stroke-width="0.6"/>
<text x="2086" y="3559" font-size="5" font-family="Liberation Serif,serif" font-style="italic" fill="#333">objective</text>
</g>
<g id="grpo-res"><text class="t" x="1731" y="3668">资料：https://www.bilibili.com/video/BV1M9NyeVEUp</text></g>

<!-- ================= DPO ================= -->
<g id="dpo-sample-text">
<text class="t" x="790" y="1751">训练样本格式：每个样本由“一个问题+一个好回答+一个不好</text>
<text class="t" x="790" y="1771">的回答”组成。例如question是“你好”，回答1“有什么可以帮</text>
<text class="t" x="790" y="1791">给你”，回答2“我现在很忙，等会再说”，相当于告诉模型你的</text>
<text class="t" x="790" y="1811">回答偏好。</text>
<text class="t" x="1278" y="1811" text-anchor="end">样本格式:</text>
</g>
<g id="dpo-type">
<text class="t" x="817" y="1851">off-policy，因为样本是在训练模型的时候都已经准备和标注</text>
<text class="t" x="817" y="1871">好的，并不是大模型产生的回答，在进行实时标注。</text>
<text class="t" x="1278" y="1871" text-anchor="end">类型:</text>
</g>
<g id="dpo-loss"><text class="t" x="1219" y="2228">损失函数</text></g>
<g id="dpo-form1">
<text class="t" x="625" y="2052">形式1:</text>
<text class="m" font-size="15" x="625" y="2090" textLength="165" lengthAdjust="spacingAndGlyphs">L<tspan class="sp">DPO</tspan>(θ) = −𝔼<tspan class="sb">(x,y<tspan font-size="80%">w</tspan>,y<tspan font-size="80%">l</tspan>)∼𝒟</tspan></text>
<text class="mr" font-size="34" x="792" y="2099">[</text>
<text class="m" font-size="15" x="804" y="2090">log σ</text>
<text class="mr" font-size="28" x="840" y="2097">(</text>
<text class="m" font-size="15" x="850" y="2090">β</text>
<text class="mr" font-size="28" x="860" y="2097">(</text>
<text class="mr" font-size="15" x="871" y="2090">log</text>
<text class="m" font-size="13" x="934" y="2078" text-anchor="middle">π<tspan class="sb">θ</tspan>(y<tspan class="sb">w</tspan>|x)</text>
<line x1="901" y1="2085" x2="967" y2="2085" stroke="#444" stroke-width="0.9"/>
<text class="m" font-size="13" x="934" y="2101" text-anchor="middle">π<tspan class="sb">ref</tspan>(y<tspan class="sb">w</tspan>|x)</text>
<text class="mr" font-size="15" x="972" y="2090">− log</text>
<text class="m" font-size="13" x="1046" y="2078" text-anchor="middle">π<tspan class="sb">θ</tspan>(y<tspan class="sb">l</tspan>|x)</text>
<line x1="1015" y1="2085" x2="1077" y2="2085" stroke="#444" stroke-width="0.9"/>
<text class="m" font-size="13" x="1046" y="2101" text-anchor="middle">π<tspan class="sb">ref</tspan>(y<tspan class="sb">l</tspan>|x)</text>
<text class="mr" font-size="28" x="1080" y="2097">))</text>
<text class="mr" font-size="34" x="1100" y="2099">]</text>
</g>
<g id="dpo-goal"><text class="t s13" x="452" y="1912">目标：优化模型参数Θ</text></g>
<g id="dpo-params">
<text class="t s13" x="33" y="1951">参数:</text>
<text class="t s13" x="37" y="1977"><tspan class="m">𝔼</tspan><tspan class="sb m">(x,yw,yl)∼𝒟</tspan>：表示对数据集 <tspan class="m">𝒟</tspan> 中的样本求期望。每个样本包含:</text>
<text class="t s13" x="50" y="2005">◦ <tspan class="m">x</tspan>：输入（例如，一个问题或上下文）。</text>
<text class="t s13" x="50" y="2033">◦ <tspan class="m">y</tspan><tspan class="sb m">w</tspan>：偏好较高的输出（例如，人类更喜欢的回答）。</text>
<text class="t s13" x="50" y="2062">◦ <tspan class="m">y</tspan><tspan class="sb m">l</tspan>：偏好较低的输出（例如，人类不太喜欢的回答）。</text>
<text class="t s13" x="37" y="2088"><tspan class="m">σ</tspan>：Sigmoid 函数，将输入映射到 (0, 1) 之间。</text>
<text class="t s13" x="37" y="2117"><tspan class="m">β</tspan>：温度参数，控制偏好强度的敏感度。</text>
<text class="t s13" x="37" y="2145"><tspan class="m">π</tspan><tspan class="sb m">θ</tspan><tspan class="m">(y|x)</tspan>：当前策略模型（参数为 <tspan class="m">θ</tspan>）在给定输入 <tspan class="m">x</tspan> 下生成输出 <tspan class="m">y</tspan> 的概率。</text>
<text class="t s13" x="37" y="2173"><tspan class="m">π</tspan><tspan class="sb m">ref</tspan><tspan class="m">(y|x)</tspan>：参考策略模型（通常是一个预训练模型）在给定输入 <tspan class="m">x</tspan> 下生成输出 <tspan class="m">y</tspan> 的概率。</text>
</g>
<g id="dpo-note1">
<text class="t s13" x="209" y="2209">说明：π_ref指的是模型在强化学习之前的模型。固定不动。</text>
<text class="t s13" x="209" y="2230">π_θ指的是正在优化的模型。</text>
</g>
<g id="dpo-meaning1">
<text class="t s13" x="209" y="2270">意义：实现“winner回答”超越“loser回答”，同时保证模型不偏</text>
<text class="t s13" x="209" y="2290">离最初模型太远。</text>
</g>
<g id="dpo-form2">
<text class="t s11" x="548" y="2331">说明:</text>
<text class="t s75" x="549" y="2354" textLength="295" lengthAdjust="spacingAndGlyphs"><tspan class="m">r</tspan><tspan class="sb m">θ</tspan><tspan class="m">(x, y) = log π</tspan><tspan class="sb m">θ</tspan><tspan class="m">(y|x)/π</tspan><tspan class="sb m">ref</tspan><tspan class="m">(y|x)</tspan> 是通过模型与参考策略之间的相对概率定义的“隐式奖励”</text>
<text class="t s11" x="883" y="2330">形式2:</text>
<text class="m" font-size="12" x="883" y="2355" textLength="297" lengthAdjust="spacingAndGlyphs">L(θ) = 𝔼<tspan class="sb">(x,yw,yl)∼D</tspan> [log σ (β (r<tspan class="sb">θ</tspan>(x, y<tspan class="sb">w</tspan>) − r<tspan class="sb">θ</tspan>(x, y<tspan class="sb">l</tspan>)))]</text>
</g>
<g id="dpo-pros">
<text class="t" x="817" y="2397">通过直接对最大化模型生成输出之间的偏好概率而避免了传统</text>
<text class="t" x="817" y="2416">RLHF中奖励和策略优化的繁杂步骤，直接优化偏好目标</text>
<text class="t" x="1278" y="2417" text-anchor="end">优点:</text>
</g>
<g id="dpo-cons"><text class="t" x="1278" y="2477" text-anchor="end">缺点:</text></g>
<g id="dpo-cons1"><text class="t" x="1083" y="2457">需要大量标注样本</text></g>
<g id="dpo-cons2"><text class="t" x="1079" y="2497">off-policy不够实时</text></g>
<g id="dpo-meaning"><text class="t" x="972" y="2537">意义：DPO是对RLHF的改进优化，变得更精简。</text></g>
<g id="dpo-note">
<text class="t" x="817" y="2577">奖励函数r(x,y)：x代表prompt，y代表大模型输出。r(x,y)代表</text>
<text class="t" x="817" y="2596">这个pair对会给多少奖励。</text>
<text class="t" x="1278" y="2596" text-anchor="end">说明:</text>
</g>

<g id="watermark"><text x="2761" y="3677" font-size="64" font-family="Liberation Sans,sans-serif" fill="#d9d9d9" stroke="#c8c8c8" stroke-width="1" textLength="510" lengthAdjust="spacingAndGlyphs">CSDN @Focus_Liu</text></g>
</svg>
